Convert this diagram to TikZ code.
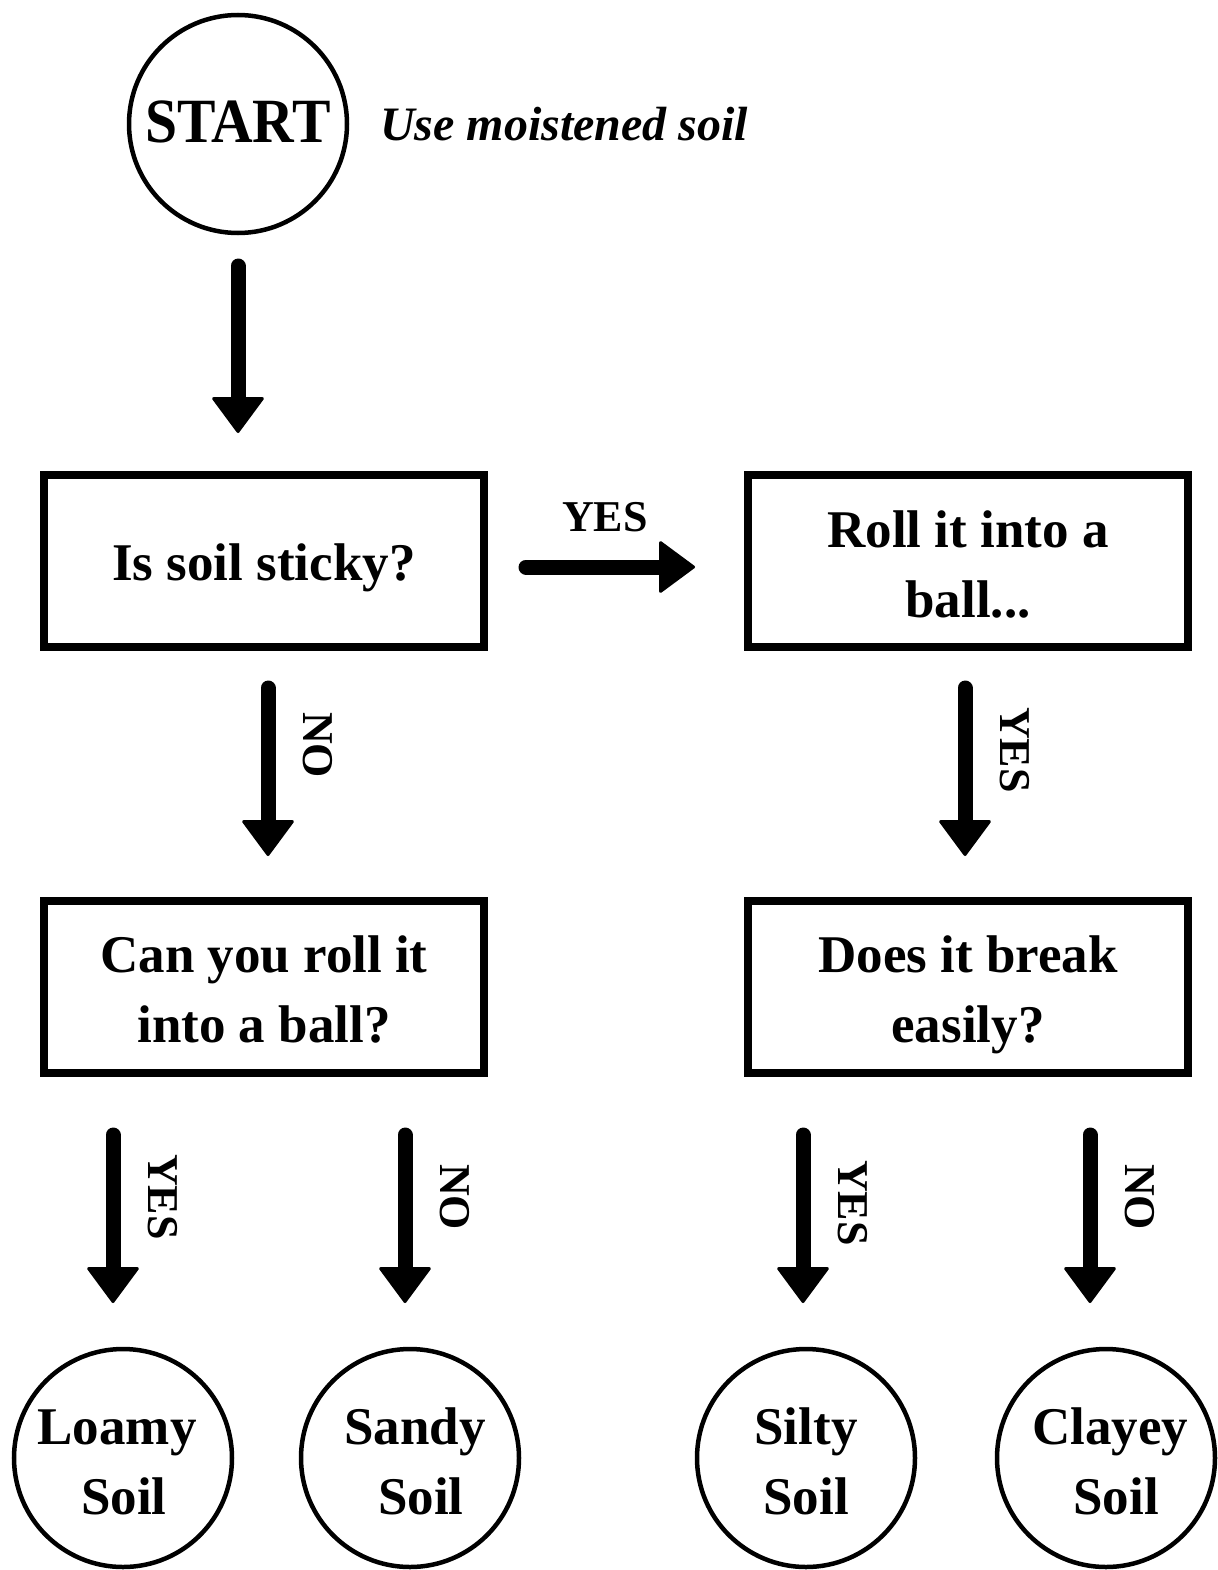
\documentclass[tikz,border=0pt]{standalone}
\usepackage{fontspec}
\setmainfont{Liberation Serif}
\usetikzlibrary{arrows.meta}
\begin{document}
\begin{tikzpicture}[x=1pt,y=-1pt,
  circ/.style={circle,draw,line width=4.5pt,minimum size=218pt,inner sep=0pt},
  qbox/.style={rectangle,draw,line width=7.5pt,minimum width=440pt,minimum height=172pt,inner sep=0pt},
  btext/.style={align=center,inner sep=0pt,font=\fontsize{53}{70}\selectfont\bfseries},
  bigarrow/.style={line width=15pt,line cap=round,-{Triangle[width=54pt,length=37pt,line width=3pt,round]}},
  lbl/.style={font=\fontsize{44}{50}\selectfont\bfseries,inner sep=0pt},
  vlbl/.style={lbl,rotate=-90}]
\useasboundingbox (0,0) rectangle (1217,1570);
% shapes
\node[circ] (start) at (238,124) {};
\node[qbox] (q1) at (264,561) {};
\node[qbox] (q2) at (968,561) {};
\node[qbox] (q3) at (264,987) {};
\node[qbox] (q4) at (968,987) {};
\node[circ] (loamy) at (123,1458) {};
\node[circ] (sandy) at (410,1458) {};
\node[circ] (silty) at (806,1458) {};
\node[circ] (clayey) at (1106,1458) {};
% texts
\node[anchor=base,inner sep=0pt,font=\fontsize{63}{70}\selectfont\bfseries] (startt) at (238,143) {\scalebox{0.915}[1]{START}};
\node[anchor=west,font=\fontsize{48}{56}\selectfont\bfseries\itshape,inner sep=0pt] (note) at (380,124) {Use moistened soil};
\node[btext] (q1t) at ([yshift=-5.5pt]q1.center) {\strut Is soil sticky?};
\node[btext] (q2t) at ([yshift=-7pt]q2.center) {\strut Roll it into a\\\strut ball...};
\node[btext] (q3t) at ([yshift=-6pt]q3.center) {\strut Can you roll it\\\strut into a ball?};
\node[btext] (q4t) at ([yshift=-6pt]q4.center) {\strut Does it break\\\strut easily?};
\node[btext] (loamyt) at ([yshift=-7pt]loamy.center) {\strut\hspace*{-12pt}Loamy\\\strut\hspace*{2pt}Soil};
\node[btext] (sandyt) at ([yshift=-7pt]sandy.center) {\strut\hspace*{10pt}Sandy\\\strut\hspace*{22pt}Soil};
\node[btext] (siltyt) at ([yshift=-7pt]silty.center) {\strut Silty\\\strut Soil};
\node[btext] (clayeyt) at ([yshift=-7pt]clayey.center) {\strut\hspace*{8pt}Clayey\\\strut\hspace*{20pt}Soil};
% arrow coordinates
\coordinate (a0s) at (238,266); \coordinate (a0e) at (238,433);
\coordinate (a1s) at (526,567); \coordinate (a1e) at (695,567);
\coordinate (a2s) at (268,688); \coordinate (a2e) at (268,856);
\coordinate (a3s) at (965,688); \coordinate (a3e) at (965,856);
\coordinate (a4s) at (113,1135); \coordinate (a4e) at (113,1303);
\coordinate (a5s) at (405,1135); \coordinate (a5e) at (405,1303);
\coordinate (a6s) at (803,1135); \coordinate (a6e) at (803,1303);
\coordinate (a7s) at (1090,1135); \coordinate (a7e) at (1090,1303);
\draw[bigarrow] (a0s) -- (a0e);
\draw[bigarrow] (a1s) -- (a1e);
\draw[bigarrow] (a2s) -- (a2e);
\draw[bigarrow] (a3s) -- (a3e);
\draw[bigarrow] (a4s) -- (a4e);
\draw[bigarrow] (a5s) -- (a5e);
\draw[bigarrow] (a6s) -- (a6e);
\draw[bigarrow] (a7s) -- (a7e);
% labels
\node[lbl] (l1) at (605,517) {YES};
\node[vlbl] (l2) at (318,745) {NO};
\node[vlbl] (l3) at (1015,750) {YES};
\node[vlbl] (l4) at (163,1197) {YES};
\node[vlbl] (l5) at (455,1197) {NO};
\node[vlbl] (l6) at (853,1203) {YES};
\node[vlbl] (l7) at (1140,1197) {NO};
\end{tikzpicture}
\end{document}
